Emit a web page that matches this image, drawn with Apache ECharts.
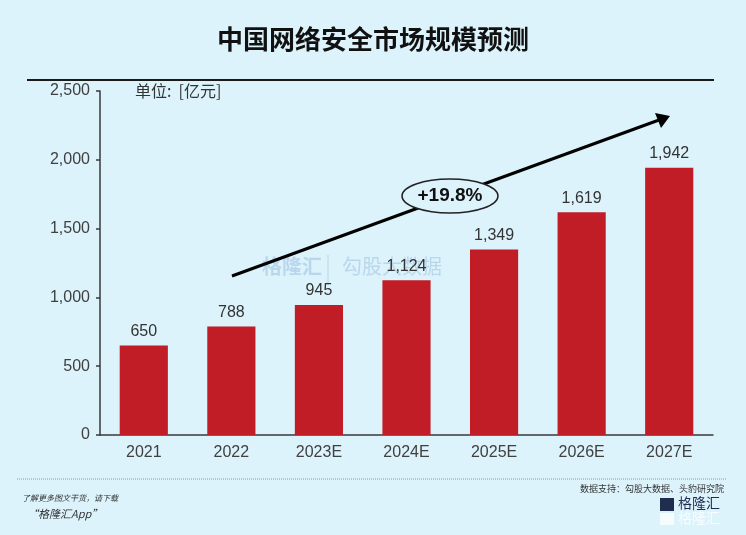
<!DOCTYPE html>
<html><head><meta charset="utf-8">
<script src="https://cdn.jsdelivr.net/npm/echarts@6/dist/echarts.min.js"></script>
<style>html,body{margin:0;padding:0;background:#dcf3fc;}#c{width:746px;height:535px;}</style>
</head><body><div id="c"></div>
<script>
const categories = ['2021','2022','2023E','2024E','2025E','2026E','2027E'];
const values = [650, 788, 945, 1124, 1349, 1619, 1942];
const yTicks = [0, 500, 1000, 1500, 2000, 2500];
const cagrLabel = '+19.8%';

const numFont = '"Liberation Sans Narrow","Liberation Sans","Noto Sans CJK SC",sans-serif';
const cjk = '"Noto Sans CJK SC","Liberation Sans",sans-serif';
const chart = echarts.init(document.getElementById('c'));
chart.setOption({
  backgroundColor: '#dcf3fc',
  animation: false,
  grid: {left: 100, right: 33, top: 91, bottom: 100},
  xAxis: {
    type: 'category', data: categories,
    axisLine: {lineStyle: {color: '#3a3a3a', width: 1.5}},
    axisTick: {show: false},
    axisLabel: {color: '#404040', fontSize: 16, fontFamily: numFont, margin: 10}
  },
  yAxis: {
    type: 'value', min: yTicks[0], max: yTicks[yTicks.length - 1], interval: yTicks[1] - yTicks[0],
    axisLine: {show: true, lineStyle: {color: '#3a3a3a', width: 1.5}},
    axisTick: {show: true, length: 4, lineStyle: {color: '#3a3a3a', width: 1.5}},
    splitLine: {show: false},
    axisLabel: {color: '#404040', fontSize: 16, fontFamily: numFont, margin: 10,
      formatter: v => v.toLocaleString('en-US')}
  },
  series: [{
    type: 'bar', data: values, barWidth: '55%',
    itemStyle: {color: '#c01d26'},
    label: {show: true, position: 'top', distance: 6, color: '#333', fontSize: 16, fontFamily: numFont,
      formatter: p => p.value.toLocaleString('en-US')}
  }],
  graphic: [
    {type: 'text', left: 'center', top: 26, style: {text: '中国网络安全市场规模预测', font: 'bold 26px ' + cjk, fill: '#111'}},
    {type: 'line', shape: {x1: 27, y1: 80, x2: 714, y2: 80}, style: {stroke: '#1a1a1a', lineWidth: 2}},
    {type: 'text', left: 135, top: 83, style: {text: '单位:  [亿元]', font: '16px ' + cjk, fill: '#333'}},
    {type: 'text', left: 262, top: 256, z: 0, style: {text: '格隆汇', font: 'bold 20px ' + cjk, fill: 'rgba(110,150,200,0.3)'}},
    {type: 'line', shape: {x1: 328, y1: 255, x2: 328, y2: 285}, style: {stroke: 'rgba(110,150,200,0.3)', lineWidth: 1}},
    {type: 'text', left: 342, top: 256, z: 0, style: {text: '勾股大数据', font: '20px ' + cjk, fill: 'rgba(110,150,200,0.3)'}},
    {type: 'line', shape: {x1: 232, y1: 276, x2: 659, y2: 120}, style: {stroke: '#000', lineWidth: 3}},
    {type: 'polygon', shape: {points: [[670, 116], [655, 113], [661, 128]]}, style: {fill: '#000'}},
    {type: 'ellipse', shape: {cx: 450, cy: 196, rx: 48, ry: 17}, style: {fill: '#dcf3fc', stroke: '#222', lineWidth: 1.5}, z: 10},
    {type: 'text', x: 450, y: 196, z: 11, style: {text: cagrLabel, font: 'bold 19px ' + numFont, fill: '#111', align: 'center', verticalAlign: 'middle'}},
    {type: 'text', right: 22, top: 484, style: {text: '数据支持：勾股大数据、头豹研究院', font: '9px ' + cjk, fill: '#333'}},
    {type: 'line', shape: {x1: 17, y1: 479, x2: 726, y2: 479}, style: {stroke: '#999', lineWidth: 1, lineDash: [1, 1]}},
    {type: 'text', left: 22, top: 494, style: {text: '了解更多图文干货，请下载', font: 'italic 8px ' + cjk, fill: '#333'}},
    {type: 'text', left: 27, top: 508, style: {text: '“格隆汇App”', font: 'italic 11px ' + cjk, fill: '#333'}},
    {type: 'rect', shape: {x: 660, y: 498, width: 14, height: 13}, style: {fill: '#1f2d4f'}},
    {type: 'text', left: 678, top: 496, style: {text: '格隆汇', font: '14px ' + cjk, fill: '#1f2d4f'}},
    {type: 'rect', shape: {x: 660, y: 513, width: 14, height: 12}, style: {fill: 'rgba(255,255,255,0.7)'}},
    {type: 'text', left: 678, top: 511, style: {text: '格隆汇', font: '14px ' + cjk, fill: 'rgba(255,255,255,0.8)'}}
  ]
});
</script></body></html>
